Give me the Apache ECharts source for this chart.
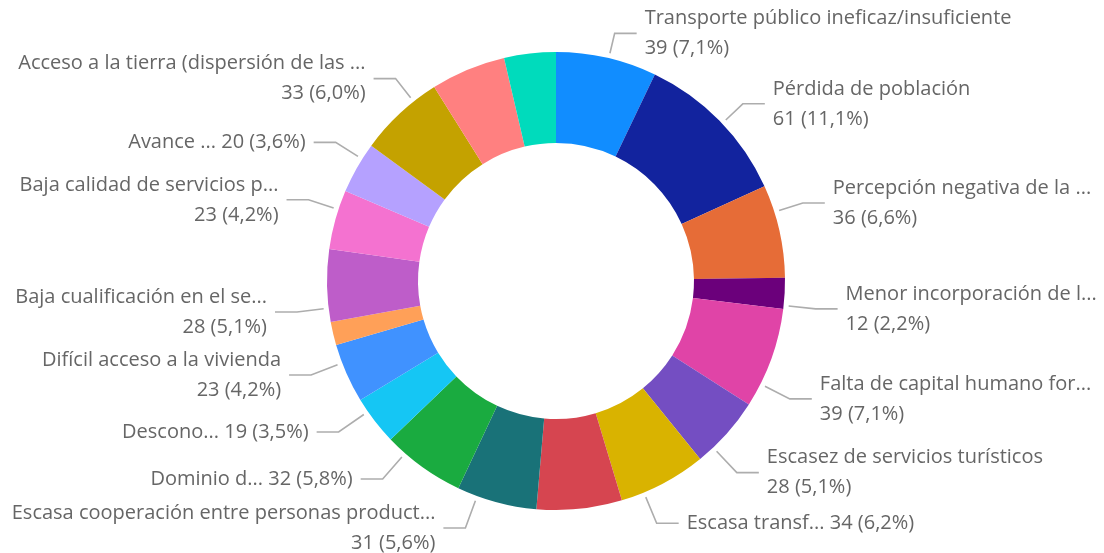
<!DOCTYPE html>
<html>
<head>
<meta charset="utf-8">
<script src="https://cdn.jsdelivr.net/npm/echarts@6/dist/echarts.min.js"></script>
<style>
  html, body { margin: 0; padding: 0; background: #fff; }
  #chart { width: 1104px; height: 553px; }
</style>
</head>
<body>
<div id="chart"></div>
<script>
// label text as shown (truncated like the original), clockwise from 12 o'clock
var labels = [
  'Transporte público ineficaz/insuficiente',
  'Pérdida de población',
  'Percepción negativa de la ...',
  'Menor incorporación de l...',
  'Falta de capital humano for...',
  'Escasez de servicios turísticos',
  'Escasa transf...',
  'Sin etiqueta 1',
  'Escasa cooperación entre personas product...',
  'Dominio d...',
  'Descono...',
  'Difícil acceso a la vivienda',
  'Sin etiqueta 2',
  'Baja cualificación en el se...',
  'Baja calidad de servicios p...',
  'Avance ...',
  'Acceso a la tierra (dispersión de las ...',
  'Sin etiqueta 3',
  'Sin etiqueta 4'
];
var values = [39, 61, 36, 12, 39, 28, 34, 33, 31, 32, 19, 23, 9, 28, 23, 20, 33, 29, 20];
// slices whose label is not drawn in the original
var hidden = [7, 12, 17, 18];
// labels written on one line: "name value (pct)"
var oneLine = [6, 9, 10, 15];

var colors = ['#118DFF', '#12239E', '#E66C37', '#6B007B', '#E044A7', '#744EC2', '#D9B300',
  '#D64550', '#197278', '#1AAB40', '#15C6F4', '#4092FF', '#FFA058', '#BE5DC9', '#F472D0',
  '#B5A1FF', '#C4A200', '#FF8080', '#00DBBC'];

// small label nudges [dx, dy] so the labels sit where the original put them
var nudges = [
  [2, 2], [4, 2], [-3, -22], [4, 14], [-7, 31], [-10, 21], [-19, 16], [0, 0],
  [-24, 6], [-18, 4], [-16, 6], [-15, 1], [0, 0], [-11, 31], [-9, -9], [-4, -10],
  [14, -15], [0, 0], [0, 0]
];

var cx = 556, cy = 281, innerR = 138, outerR = 229;
var leaderGap = 5;

var total = values.reduce(function (a, b) { return a + b; }, 0);

var pieData = labels.map(function (name, i) {
  var item = { name: name, value: values[i], itemStyle: { color: colors[i] } };
  if (hidden.indexOf(i) >= 0) {
    item.label = { show: false };
    item.labelLine = { show: false };
  }
  return item;
});

var chart = echarts.init(document.getElementById('chart'));

var option = {
  animation: false,
  series: [{
    type: 'pie',
    center: [cx, cy],
    radius: [innerR, outerR],
    startAngle: 90,
    clockwise: true,
    data: pieData,
    label: {
      show: true,
      position: 'outside',
      overflow: 'none',
      fontFamily: 'Open Sans',
      fontSize: 20,
      lineHeight: 30,
      color: '#666666',
      distanceToLabelLine: 8,
      formatter: function (p) {
        var pct = (p.value / total * 100).toFixed(1).replace('.', ',');
        var sep = oneLine.indexOf(p.dataIndex) >= 0 ? ' ' : '\n';
        return p.name + sep + p.value + ' (' + pct + '%)';
      }
    },
    labelLine: {
      show: true,
      length: 27,
      length2: 22,
      smooth: false,
      lineStyle: { color: '#adadad', width: 1.6 }
    },
    // move the label, then redraw its leader: radial from just off the ring to the elbow, then flat
    labelLayout: function (params) {
      var n = nudges[params.dataIndex];
      var pts = params.labelLinePoints;
      if (!pts || pts.length < 3) {
        return { dx: n[0], dy: n[1] };
      }
      var p1 = [pts[1][0] + n[0], pts[1][1] + n[1]];
      var p2 = [pts[2][0] + n[0], pts[2][1] + n[1]];
      var vx = p1[0] - cx, vy = p1[1] - cy;
      var d = Math.sqrt(vx * vx + vy * vy);
      var r0 = outerR + leaderGap;
      var p0 = [cx + vx / d * r0, cy + vy / d * r0];
      return { dx: n[0], dy: n[1], labelLinePoints: [p0, p1, p2] };
    },
    emphasis: { disabled: true }
  }]
};

chart.setOption(option);
</script>
</body>
</html>
